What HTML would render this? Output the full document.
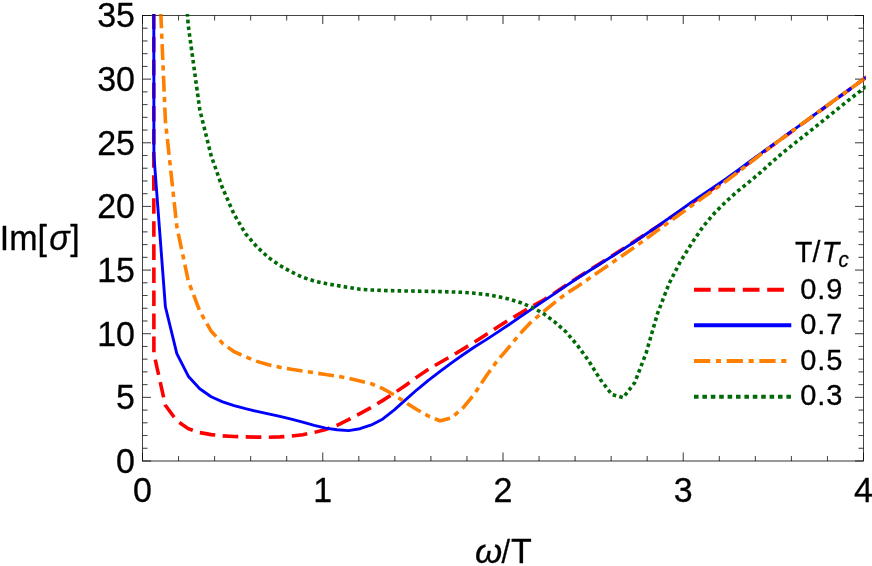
<!DOCTYPE html>
<html>
<head>
<meta charset="utf-8">
<title>Im[sigma] vs omega/T</title>
<style>
html, body { margin: 0; padding: 0; background: #ffffff; }
body { width: 872px; height: 566px; overflow: hidden; }
svg { will-change: transform; display: block; font-family: "Liberation Sans", sans-serif; }
text { fill: #000; }
</style>
</head>
<body>
<svg width="872" height="566" viewBox="0 0 872 566">
<rect x="0" y="0" width="872" height="566" fill="#ffffff"/>
<defs>
<clipPath id="plotclip"><rect x="140.50" y="13.90" width="725.20" height="448.50"/></clipPath>
</defs>
<g stroke="#000000" stroke-width="0.65" fill="none">
<rect x="142.50" y="15.50" width="721.00" height="445.50"/>
<line x1="142.50" y1="461.00" x2="142.50" y2="452.50"/>
<line x1="142.50" y1="15.50" x2="142.50" y2="24.00"/>
<line x1="178.55" y1="461.00" x2="178.55" y2="456.00"/>
<line x1="178.55" y1="15.50" x2="178.55" y2="20.50"/>
<line x1="214.60" y1="461.00" x2="214.60" y2="456.00"/>
<line x1="214.60" y1="15.50" x2="214.60" y2="20.50"/>
<line x1="250.65" y1="461.00" x2="250.65" y2="456.00"/>
<line x1="250.65" y1="15.50" x2="250.65" y2="20.50"/>
<line x1="286.70" y1="461.00" x2="286.70" y2="456.00"/>
<line x1="286.70" y1="15.50" x2="286.70" y2="20.50"/>
<line x1="322.75" y1="461.00" x2="322.75" y2="452.50"/>
<line x1="322.75" y1="15.50" x2="322.75" y2="24.00"/>
<line x1="358.80" y1="461.00" x2="358.80" y2="456.00"/>
<line x1="358.80" y1="15.50" x2="358.80" y2="20.50"/>
<line x1="394.85" y1="461.00" x2="394.85" y2="456.00"/>
<line x1="394.85" y1="15.50" x2="394.85" y2="20.50"/>
<line x1="430.90" y1="461.00" x2="430.90" y2="456.00"/>
<line x1="430.90" y1="15.50" x2="430.90" y2="20.50"/>
<line x1="466.95" y1="461.00" x2="466.95" y2="456.00"/>
<line x1="466.95" y1="15.50" x2="466.95" y2="20.50"/>
<line x1="503.00" y1="461.00" x2="503.00" y2="452.50"/>
<line x1="503.00" y1="15.50" x2="503.00" y2="24.00"/>
<line x1="539.05" y1="461.00" x2="539.05" y2="456.00"/>
<line x1="539.05" y1="15.50" x2="539.05" y2="20.50"/>
<line x1="575.10" y1="461.00" x2="575.10" y2="456.00"/>
<line x1="575.10" y1="15.50" x2="575.10" y2="20.50"/>
<line x1="611.15" y1="461.00" x2="611.15" y2="456.00"/>
<line x1="611.15" y1="15.50" x2="611.15" y2="20.50"/>
<line x1="647.20" y1="461.00" x2="647.20" y2="456.00"/>
<line x1="647.20" y1="15.50" x2="647.20" y2="20.50"/>
<line x1="683.25" y1="461.00" x2="683.25" y2="452.50"/>
<line x1="683.25" y1="15.50" x2="683.25" y2="24.00"/>
<line x1="719.30" y1="461.00" x2="719.30" y2="456.00"/>
<line x1="719.30" y1="15.50" x2="719.30" y2="20.50"/>
<line x1="755.35" y1="461.00" x2="755.35" y2="456.00"/>
<line x1="755.35" y1="15.50" x2="755.35" y2="20.50"/>
<line x1="791.40" y1="461.00" x2="791.40" y2="456.00"/>
<line x1="791.40" y1="15.50" x2="791.40" y2="20.50"/>
<line x1="827.45" y1="461.00" x2="827.45" y2="456.00"/>
<line x1="827.45" y1="15.50" x2="827.45" y2="20.50"/>
<line x1="863.50" y1="461.00" x2="863.50" y2="452.50"/>
<line x1="863.50" y1="15.50" x2="863.50" y2="24.00"/>
<line x1="142.50" y1="461.00" x2="151.00" y2="461.00"/>
<line x1="863.50" y1="461.00" x2="855.00" y2="461.00"/>
<line x1="142.50" y1="448.27" x2="147.50" y2="448.27"/>
<line x1="863.50" y1="448.27" x2="858.50" y2="448.27"/>
<line x1="142.50" y1="435.54" x2="147.50" y2="435.54"/>
<line x1="863.50" y1="435.54" x2="858.50" y2="435.54"/>
<line x1="142.50" y1="422.81" x2="147.50" y2="422.81"/>
<line x1="863.50" y1="422.81" x2="858.50" y2="422.81"/>
<line x1="142.50" y1="410.09" x2="147.50" y2="410.09"/>
<line x1="863.50" y1="410.09" x2="858.50" y2="410.09"/>
<line x1="142.50" y1="397.36" x2="151.00" y2="397.36"/>
<line x1="863.50" y1="397.36" x2="855.00" y2="397.36"/>
<line x1="142.50" y1="384.63" x2="147.50" y2="384.63"/>
<line x1="863.50" y1="384.63" x2="858.50" y2="384.63"/>
<line x1="142.50" y1="371.90" x2="147.50" y2="371.90"/>
<line x1="863.50" y1="371.90" x2="858.50" y2="371.90"/>
<line x1="142.50" y1="359.17" x2="147.50" y2="359.17"/>
<line x1="863.50" y1="359.17" x2="858.50" y2="359.17"/>
<line x1="142.50" y1="346.44" x2="147.50" y2="346.44"/>
<line x1="863.50" y1="346.44" x2="858.50" y2="346.44"/>
<line x1="142.50" y1="333.71" x2="151.00" y2="333.71"/>
<line x1="863.50" y1="333.71" x2="855.00" y2="333.71"/>
<line x1="142.50" y1="320.99" x2="147.50" y2="320.99"/>
<line x1="863.50" y1="320.99" x2="858.50" y2="320.99"/>
<line x1="142.50" y1="308.26" x2="147.50" y2="308.26"/>
<line x1="863.50" y1="308.26" x2="858.50" y2="308.26"/>
<line x1="142.50" y1="295.53" x2="147.50" y2="295.53"/>
<line x1="863.50" y1="295.53" x2="858.50" y2="295.53"/>
<line x1="142.50" y1="282.80" x2="147.50" y2="282.80"/>
<line x1="863.50" y1="282.80" x2="858.50" y2="282.80"/>
<line x1="142.50" y1="270.07" x2="151.00" y2="270.07"/>
<line x1="863.50" y1="270.07" x2="855.00" y2="270.07"/>
<line x1="142.50" y1="257.34" x2="147.50" y2="257.34"/>
<line x1="863.50" y1="257.34" x2="858.50" y2="257.34"/>
<line x1="142.50" y1="244.61" x2="147.50" y2="244.61"/>
<line x1="863.50" y1="244.61" x2="858.50" y2="244.61"/>
<line x1="142.50" y1="231.89" x2="147.50" y2="231.89"/>
<line x1="863.50" y1="231.89" x2="858.50" y2="231.89"/>
<line x1="142.50" y1="219.16" x2="147.50" y2="219.16"/>
<line x1="863.50" y1="219.16" x2="858.50" y2="219.16"/>
<line x1="142.50" y1="206.43" x2="151.00" y2="206.43"/>
<line x1="863.50" y1="206.43" x2="855.00" y2="206.43"/>
<line x1="142.50" y1="193.70" x2="147.50" y2="193.70"/>
<line x1="863.50" y1="193.70" x2="858.50" y2="193.70"/>
<line x1="142.50" y1="180.97" x2="147.50" y2="180.97"/>
<line x1="863.50" y1="180.97" x2="858.50" y2="180.97"/>
<line x1="142.50" y1="168.24" x2="147.50" y2="168.24"/>
<line x1="863.50" y1="168.24" x2="858.50" y2="168.24"/>
<line x1="142.50" y1="155.51" x2="147.50" y2="155.51"/>
<line x1="863.50" y1="155.51" x2="858.50" y2="155.51"/>
<line x1="142.50" y1="142.78" x2="151.00" y2="142.78"/>
<line x1="863.50" y1="142.78" x2="855.00" y2="142.78"/>
<line x1="142.50" y1="130.06" x2="147.50" y2="130.06"/>
<line x1="863.50" y1="130.06" x2="858.50" y2="130.06"/>
<line x1="142.50" y1="117.33" x2="147.50" y2="117.33"/>
<line x1="863.50" y1="117.33" x2="858.50" y2="117.33"/>
<line x1="142.50" y1="104.60" x2="147.50" y2="104.60"/>
<line x1="863.50" y1="104.60" x2="858.50" y2="104.60"/>
<line x1="142.50" y1="91.87" x2="147.50" y2="91.87"/>
<line x1="863.50" y1="91.87" x2="858.50" y2="91.87"/>
<line x1="142.50" y1="79.14" x2="151.00" y2="79.14"/>
<line x1="863.50" y1="79.14" x2="855.00" y2="79.14"/>
<line x1="142.50" y1="66.41" x2="147.50" y2="66.41"/>
<line x1="863.50" y1="66.41" x2="858.50" y2="66.41"/>
<line x1="142.50" y1="53.68" x2="147.50" y2="53.68"/>
<line x1="863.50" y1="53.68" x2="858.50" y2="53.68"/>
<line x1="142.50" y1="40.96" x2="147.50" y2="40.96"/>
<line x1="863.50" y1="40.96" x2="858.50" y2="40.96"/>
<line x1="142.50" y1="28.23" x2="147.50" y2="28.23"/>
<line x1="863.50" y1="28.23" x2="858.50" y2="28.23"/>
<line x1="142.50" y1="15.50" x2="151.00" y2="15.50"/>
<line x1="863.50" y1="15.50" x2="855.00" y2="15.50"/>
</g>
<g clip-path="url(#plotclip)">
<path d="M153.70 -150.00 L153.90 353.50 L165.39 405.36 L176.84 420.89 L188.28 428.63 L199.73 432.62 L211.18 434.62 L222.62 435.85 L234.07 436.46 L245.51 436.88 L256.96 437.15 L268.41 437.19 L279.85 436.92 L291.30 436.10 L302.74 434.71 L314.19 432.48 L325.64 429.52 L337.08 425.25 L348.53 419.69 L359.97 413.54 L371.42 407.34 L382.87 400.35 L394.31 393.01 L405.76 385.23 L417.20 376.86 L428.65 369.14 L440.10 362.47 L451.54 355.92 L462.99 349.10 L474.43 342.11 L485.88 334.71 L497.33 327.16 L508.77 320.02 L520.22 313.17 L531.66 306.54 L543.11 300.20 L554.56 293.00 L566.00 285.26 L577.45 277.69 L588.89 270.49 L600.34 263.35 L611.79 256.13 L623.23 248.84 L634.68 241.38 L646.12 233.83 L657.57 226.39 L669.02 218.89 L680.46 211.03 L691.91 203.06 L703.35 195.17 L714.80 187.45 L726.25 179.63 L737.69 171.40 L749.14 162.85 L760.58 154.31 L772.03 145.92 L783.48 137.56 L794.92 129.20 L806.37 120.84 L817.81 112.49 L829.26 104.16 L840.71 95.84 L852.15 87.51 L863.60 79.20 L868.00 76.10" fill="none" stroke="#ff0000" stroke-width="3.6" stroke-dasharray="15.6 7.47" stroke-dashoffset="20.92"/>
<path d="M153.70 -150.00 L153.90 155.00 L165.39 306.78 L176.84 353.58 L188.28 376.22 L199.73 388.80 L211.18 396.73 L222.62 401.94 L234.07 405.66 L245.51 408.67 L256.96 411.37 L268.41 413.85 L279.85 416.43 L291.30 419.20 L302.74 422.20 L314.19 425.36 L325.64 428.10 L337.08 429.71 L348.53 430.68 L359.97 428.73 L371.42 424.96 L382.87 418.97 L394.31 409.87 L405.76 399.70 L417.20 389.54 L428.65 380.21 L440.10 371.36 L451.54 362.83 L462.99 354.74 L474.43 347.02 L485.88 339.89 L497.33 332.39 L508.77 324.68 L520.22 316.88 L531.66 309.12 L543.11 301.42 L554.56 293.67 L566.00 285.87 L577.45 278.27 L588.89 271.00 L600.34 263.80 L611.79 256.47 L623.23 249.10 L634.68 241.75 L646.12 234.00 L657.57 226.08 L669.02 218.12 L680.46 210.08 L691.91 202.02 L703.35 194.15 L714.80 186.44 L726.25 178.78 L737.69 170.52 L749.14 162.04 L760.58 153.61 L772.03 145.33 L783.48 137.10 L794.92 128.84 L806.37 120.56 L817.81 112.28 L829.26 104.01 L840.71 95.74 L852.15 87.47 L863.60 79.20 L868.00 76.10" fill="none" stroke="#0000ff" stroke-width="2.9" stroke-linejoin="round"/>
<path d="M153.84 -150.00 L165.39 120.86 L176.84 226.66 L188.28 280.82 L199.73 311.03 L211.18 331.19 L222.62 343.39 L234.07 351.77 L245.51 356.78 L256.96 361.40 L268.41 364.74 L279.85 367.18 L291.30 369.30 L302.74 371.09 L314.19 372.77 L325.64 374.41 L337.08 376.18 L348.53 378.18 L359.97 380.97 L371.42 383.75 L382.87 388.65 L394.31 395.03 L405.76 402.64 L417.20 409.70 L428.65 416.22 L440.10 420.80 L451.54 417.88 L462.99 407.89 L474.43 393.95 L485.88 376.43 L497.33 360.74 L508.77 347.35 L520.22 333.57 L531.66 321.38 L543.11 312.09 L554.56 302.55 L566.00 293.67 L577.45 286.45 L588.89 278.61 L600.34 270.83 L611.79 262.96 L623.23 255.07 L634.68 247.09 L646.12 238.79 L657.57 230.39 L669.02 222.11 L680.46 213.73 L691.91 205.45 L703.35 197.33 L714.80 189.26 L726.25 181.04 L737.69 172.35 L749.14 163.37 L760.58 154.51 L772.03 145.92 L783.48 137.48 L794.92 129.08 L806.37 120.66 L817.81 112.29 L829.26 103.99 L840.71 95.71 L852.15 87.46 L863.60 79.20 L868.00 76.10" fill="none" stroke="#ff8000" stroke-width="3.6" stroke-dasharray="15.9 5.29 5.24 5.29" stroke-dashoffset="27.79"/>
<path d="M176.70 -125.00 L188.28 25.62 L199.73 109.49 L211.18 155.83 L222.62 188.28 L234.07 214.28 L245.51 233.63 L256.96 246.94 L268.41 257.50 L279.85 265.49 L291.30 271.92 L302.74 277.32 L314.19 281.00 L325.64 283.54 L337.08 285.57 L348.53 287.37 L359.97 289.33 L371.42 290.05 L382.87 290.46 L394.31 290.76 L405.76 291.00 L417.20 291.16 L428.65 291.36 L440.10 291.59 L451.54 291.92 L462.99 292.36 L474.43 293.20 L485.88 294.57 L497.33 296.43 L508.77 299.01 L520.22 302.52 L531.66 307.10 L543.11 313.37 L554.56 321.81 L566.00 331.93 L577.45 345.37 L588.89 361.16 L600.34 379.51 L611.79 394.52 L623.23 397.63 L634.68 382.70 L646.12 353.09 L657.57 313.43 L669.02 283.64 L680.46 261.38 L691.91 242.97 L703.35 226.23 L714.80 212.72 L726.25 201.40 L737.69 191.13 L749.14 181.92 L760.58 172.38 L772.03 162.02 L783.48 152.17 L794.92 143.06 L806.37 134.01 L817.81 124.87 L829.26 115.73 L840.71 106.55 L852.15 97.37 L863.60 88.40 L868.00 85.00" fill="none" stroke="#006a06" stroke-width="3.6" stroke-dasharray="3.6 3.17" stroke-dashoffset="3.78"/>
</g>
<g stroke="#000000" stroke-width="0.65" fill="none" opacity="0.35">
<rect x="142.50" y="15.50" width="721.00" height="445.50"/>
<line x1="142.50" y1="461.00" x2="142.50" y2="452.50"/>
<line x1="142.50" y1="15.50" x2="142.50" y2="24.00"/>
<line x1="178.55" y1="461.00" x2="178.55" y2="456.00"/>
<line x1="178.55" y1="15.50" x2="178.55" y2="20.50"/>
<line x1="214.60" y1="461.00" x2="214.60" y2="456.00"/>
<line x1="214.60" y1="15.50" x2="214.60" y2="20.50"/>
<line x1="250.65" y1="461.00" x2="250.65" y2="456.00"/>
<line x1="250.65" y1="15.50" x2="250.65" y2="20.50"/>
<line x1="286.70" y1="461.00" x2="286.70" y2="456.00"/>
<line x1="286.70" y1="15.50" x2="286.70" y2="20.50"/>
<line x1="322.75" y1="461.00" x2="322.75" y2="452.50"/>
<line x1="322.75" y1="15.50" x2="322.75" y2="24.00"/>
<line x1="358.80" y1="461.00" x2="358.80" y2="456.00"/>
<line x1="358.80" y1="15.50" x2="358.80" y2="20.50"/>
<line x1="394.85" y1="461.00" x2="394.85" y2="456.00"/>
<line x1="394.85" y1="15.50" x2="394.85" y2="20.50"/>
<line x1="430.90" y1="461.00" x2="430.90" y2="456.00"/>
<line x1="430.90" y1="15.50" x2="430.90" y2="20.50"/>
<line x1="466.95" y1="461.00" x2="466.95" y2="456.00"/>
<line x1="466.95" y1="15.50" x2="466.95" y2="20.50"/>
<line x1="503.00" y1="461.00" x2="503.00" y2="452.50"/>
<line x1="503.00" y1="15.50" x2="503.00" y2="24.00"/>
<line x1="539.05" y1="461.00" x2="539.05" y2="456.00"/>
<line x1="539.05" y1="15.50" x2="539.05" y2="20.50"/>
<line x1="575.10" y1="461.00" x2="575.10" y2="456.00"/>
<line x1="575.10" y1="15.50" x2="575.10" y2="20.50"/>
<line x1="611.15" y1="461.00" x2="611.15" y2="456.00"/>
<line x1="611.15" y1="15.50" x2="611.15" y2="20.50"/>
<line x1="647.20" y1="461.00" x2="647.20" y2="456.00"/>
<line x1="647.20" y1="15.50" x2="647.20" y2="20.50"/>
<line x1="683.25" y1="461.00" x2="683.25" y2="452.50"/>
<line x1="683.25" y1="15.50" x2="683.25" y2="24.00"/>
<line x1="719.30" y1="461.00" x2="719.30" y2="456.00"/>
<line x1="719.30" y1="15.50" x2="719.30" y2="20.50"/>
<line x1="755.35" y1="461.00" x2="755.35" y2="456.00"/>
<line x1="755.35" y1="15.50" x2="755.35" y2="20.50"/>
<line x1="791.40" y1="461.00" x2="791.40" y2="456.00"/>
<line x1="791.40" y1="15.50" x2="791.40" y2="20.50"/>
<line x1="827.45" y1="461.00" x2="827.45" y2="456.00"/>
<line x1="827.45" y1="15.50" x2="827.45" y2="20.50"/>
<line x1="863.50" y1="461.00" x2="863.50" y2="452.50"/>
<line x1="863.50" y1="15.50" x2="863.50" y2="24.00"/>
<line x1="142.50" y1="461.00" x2="151.00" y2="461.00"/>
<line x1="863.50" y1="461.00" x2="855.00" y2="461.00"/>
<line x1="142.50" y1="448.27" x2="147.50" y2="448.27"/>
<line x1="863.50" y1="448.27" x2="858.50" y2="448.27"/>
<line x1="142.50" y1="435.54" x2="147.50" y2="435.54"/>
<line x1="863.50" y1="435.54" x2="858.50" y2="435.54"/>
<line x1="142.50" y1="422.81" x2="147.50" y2="422.81"/>
<line x1="863.50" y1="422.81" x2="858.50" y2="422.81"/>
<line x1="142.50" y1="410.09" x2="147.50" y2="410.09"/>
<line x1="863.50" y1="410.09" x2="858.50" y2="410.09"/>
<line x1="142.50" y1="397.36" x2="151.00" y2="397.36"/>
<line x1="863.50" y1="397.36" x2="855.00" y2="397.36"/>
<line x1="142.50" y1="384.63" x2="147.50" y2="384.63"/>
<line x1="863.50" y1="384.63" x2="858.50" y2="384.63"/>
<line x1="142.50" y1="371.90" x2="147.50" y2="371.90"/>
<line x1="863.50" y1="371.90" x2="858.50" y2="371.90"/>
<line x1="142.50" y1="359.17" x2="147.50" y2="359.17"/>
<line x1="863.50" y1="359.17" x2="858.50" y2="359.17"/>
<line x1="142.50" y1="346.44" x2="147.50" y2="346.44"/>
<line x1="863.50" y1="346.44" x2="858.50" y2="346.44"/>
<line x1="142.50" y1="333.71" x2="151.00" y2="333.71"/>
<line x1="863.50" y1="333.71" x2="855.00" y2="333.71"/>
<line x1="142.50" y1="320.99" x2="147.50" y2="320.99"/>
<line x1="863.50" y1="320.99" x2="858.50" y2="320.99"/>
<line x1="142.50" y1="308.26" x2="147.50" y2="308.26"/>
<line x1="863.50" y1="308.26" x2="858.50" y2="308.26"/>
<line x1="142.50" y1="295.53" x2="147.50" y2="295.53"/>
<line x1="863.50" y1="295.53" x2="858.50" y2="295.53"/>
<line x1="142.50" y1="282.80" x2="147.50" y2="282.80"/>
<line x1="863.50" y1="282.80" x2="858.50" y2="282.80"/>
<line x1="142.50" y1="270.07" x2="151.00" y2="270.07"/>
<line x1="863.50" y1="270.07" x2="855.00" y2="270.07"/>
<line x1="142.50" y1="257.34" x2="147.50" y2="257.34"/>
<line x1="863.50" y1="257.34" x2="858.50" y2="257.34"/>
<line x1="142.50" y1="244.61" x2="147.50" y2="244.61"/>
<line x1="863.50" y1="244.61" x2="858.50" y2="244.61"/>
<line x1="142.50" y1="231.89" x2="147.50" y2="231.89"/>
<line x1="863.50" y1="231.89" x2="858.50" y2="231.89"/>
<line x1="142.50" y1="219.16" x2="147.50" y2="219.16"/>
<line x1="863.50" y1="219.16" x2="858.50" y2="219.16"/>
<line x1="142.50" y1="206.43" x2="151.00" y2="206.43"/>
<line x1="863.50" y1="206.43" x2="855.00" y2="206.43"/>
<line x1="142.50" y1="193.70" x2="147.50" y2="193.70"/>
<line x1="863.50" y1="193.70" x2="858.50" y2="193.70"/>
<line x1="142.50" y1="180.97" x2="147.50" y2="180.97"/>
<line x1="863.50" y1="180.97" x2="858.50" y2="180.97"/>
<line x1="142.50" y1="168.24" x2="147.50" y2="168.24"/>
<line x1="863.50" y1="168.24" x2="858.50" y2="168.24"/>
<line x1="142.50" y1="155.51" x2="147.50" y2="155.51"/>
<line x1="863.50" y1="155.51" x2="858.50" y2="155.51"/>
<line x1="142.50" y1="142.78" x2="151.00" y2="142.78"/>
<line x1="863.50" y1="142.78" x2="855.00" y2="142.78"/>
<line x1="142.50" y1="130.06" x2="147.50" y2="130.06"/>
<line x1="863.50" y1="130.06" x2="858.50" y2="130.06"/>
<line x1="142.50" y1="117.33" x2="147.50" y2="117.33"/>
<line x1="863.50" y1="117.33" x2="858.50" y2="117.33"/>
<line x1="142.50" y1="104.60" x2="147.50" y2="104.60"/>
<line x1="863.50" y1="104.60" x2="858.50" y2="104.60"/>
<line x1="142.50" y1="91.87" x2="147.50" y2="91.87"/>
<line x1="863.50" y1="91.87" x2="858.50" y2="91.87"/>
<line x1="142.50" y1="79.14" x2="151.00" y2="79.14"/>
<line x1="863.50" y1="79.14" x2="855.00" y2="79.14"/>
<line x1="142.50" y1="66.41" x2="147.50" y2="66.41"/>
<line x1="863.50" y1="66.41" x2="858.50" y2="66.41"/>
<line x1="142.50" y1="53.68" x2="147.50" y2="53.68"/>
<line x1="863.50" y1="53.68" x2="858.50" y2="53.68"/>
<line x1="142.50" y1="40.96" x2="147.50" y2="40.96"/>
<line x1="863.50" y1="40.96" x2="858.50" y2="40.96"/>
<line x1="142.50" y1="28.23" x2="147.50" y2="28.23"/>
<line x1="863.50" y1="28.23" x2="858.50" y2="28.23"/>
<line x1="142.50" y1="15.50" x2="151.00" y2="15.50"/>
<line x1="863.50" y1="15.50" x2="855.00" y2="15.50"/>
</g>
<g stroke="#000" stroke-width="0.3" stroke-linejoin="round">
<text transform="translate(135.00 472.90) scale(0.955 1)" font-size="35.6px" text-anchor="end">0</text>
<text transform="translate(135.00 409.26) scale(0.955 1)" font-size="35.6px" text-anchor="end">5</text>
<text transform="translate(135.00 345.61) scale(0.955 1)" font-size="35.6px" text-anchor="end">10</text>
<text transform="translate(135.00 281.97) scale(0.955 1)" font-size="35.6px" text-anchor="end">15</text>
<text transform="translate(135.00 218.33) scale(0.955 1)" font-size="35.6px" text-anchor="end">20</text>
<text transform="translate(135.00 154.68) scale(0.955 1)" font-size="35.6px" text-anchor="end">25</text>
<text transform="translate(135.00 91.04) scale(0.955 1)" font-size="35.6px" text-anchor="end">30</text>
<text transform="translate(135.00 27.40) scale(0.955 1)" font-size="35.6px" text-anchor="end">35</text>
<text transform="translate(142.50 502.20) scale(0.955 1)" font-size="35.6px" text-anchor="middle">0</text>
<text transform="translate(322.75 502.20) scale(0.955 1)" font-size="35.6px" text-anchor="middle">1</text>
<text transform="translate(503.00 502.20) scale(0.955 1)" font-size="35.6px" text-anchor="middle">2</text>
<text transform="translate(683.25 502.20) scale(0.955 1)" font-size="35.6px" text-anchor="middle">3</text>
<text transform="translate(863.50 502.20) scale(0.955 1)" font-size="35.6px" text-anchor="middle">4</text>
<text transform="translate(-0.30 250.20) scale(0.955 1)" font-size="35.6px" text-anchor="start">Im[<tspan font-style="italic" dx="2.4">σ</tspan><tspan dx="0.6">]</tspan></text>
<text transform="translate(475.0 562.8) scale(1.06 1)" font-size="33px" font-style="italic">ω</text>
<text transform="translate(501.4 562.8) scale(0.9 1)" font-size="34px">/</text>
<text transform="translate(510.90 562.80) scale(0.955 1)" font-size="35.6px" text-anchor="start">T</text>
<text transform="translate(795.00 262.30) scale(0.955 1)" font-size="29.8px" text-anchor="start">T/<tspan font-style="italic" dx="1.5">T</tspan><tspan font-style="italic" font-size="21.5px" dy="4.8" dx="-0.6">c</tspan></text>
<text transform="translate(800.30 298.80) scale(0.975 1)" font-size="29.8px" letter-spacing="0.85">0.9</text>
<text transform="translate(800.30 334.30) scale(0.975 1)" font-size="29.8px" letter-spacing="0.85">0.7</text>
<text transform="translate(800.30 369.50) scale(0.975 1)" font-size="29.8px" letter-spacing="0.85">0.5</text>
<text transform="translate(800.30 405.40) scale(0.975 1)" font-size="29.8px" letter-spacing="0.85">0.3</text>
</g>
<g fill="none" stroke-width="3.95">
<line x1="694" y1="289.8" x2="791.3" y2="289.8" stroke="#ff0000" stroke-dasharray="16.7 7.7"/>
<line x1="694" y1="325.3" x2="791.3" y2="325.3" stroke="#0000ff"/>
<line x1="694" y1="361" x2="791.3" y2="361" stroke="#ff8000" stroke-dasharray="16.3 5.65 5.1 5.6"/>
<line x1="694" y1="396.8" x2="791.3" y2="396.8" stroke="#006a06" stroke-dasharray="4.55 3.85"/>
</g>
</svg>
</body>
</html>
